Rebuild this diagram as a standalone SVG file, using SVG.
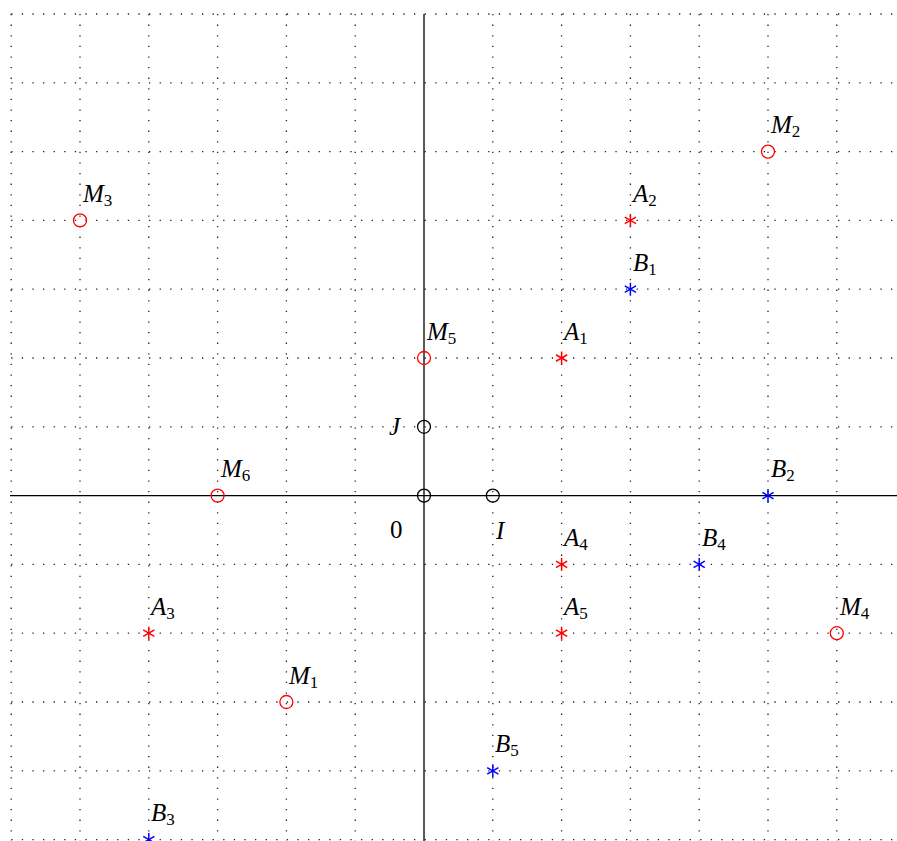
<svg xmlns="http://www.w3.org/2000/svg" width="897" height="841" viewBox="0 0 897 841">
<defs>
<style>
.grid line{stroke:#222;stroke-width:1.3;stroke-dasharray:1.3 9.3;fill:none}
.axis{stroke:#000;stroke-width:1.3}
.ring{fill:none;stroke-width:1.3}
.red{stroke:#f00;stroke-width:1.5}
.blue{stroke:#00f;stroke-width:1.5}
.blk{stroke:#000}
.ring.red{stroke-width:1.3}
text{font-family:"Liberation Serif","DejaVu Serif",serif;font-size:25px;font-style:italic;fill:#000}
.sub{font-size:17px;font-style:normal}
.up{font-style:normal}
</style>
<g id="star"><line x1="0" y1="-6.5" x2="0" y2="6.5"/><line x1="-5.6" y1="-3.25" x2="5.6" y2="3.25"/><line x1="-5.6" y1="3.25" x2="5.6" y2="-3.25"/></g>
</defs>
<rect width="897" height="841" fill="#fff"/>
<g class="grid" id="grid">
<line x1="11.2" y1="14" x2="11.2" y2="841"/>
<line x1="80" y1="14" x2="80" y2="841"/>
<line x1="148.8" y1="14" x2="148.8" y2="841"/>
<line x1="217.6" y1="14" x2="217.6" y2="841"/>
<line x1="286.4" y1="14" x2="286.4" y2="841"/>
<line x1="355.2" y1="14" x2="355.2" y2="841"/>
<line x1="492.8" y1="14" x2="492.8" y2="841"/>
<line x1="561.6" y1="14" x2="561.6" y2="841"/>
<line x1="630.4" y1="14" x2="630.4" y2="841"/>
<line x1="699.2" y1="14" x2="699.2" y2="841"/>
<line x1="768" y1="14" x2="768" y2="841"/>
<line x1="836.8" y1="14" x2="836.8" y2="841"/>
<line x1="11.2" y1="14" x2="897" y2="14"/>
<line x1="11.2" y1="82.8" x2="897" y2="82.8"/>
<line x1="11.2" y1="151.6" x2="897" y2="151.6"/>
<line x1="11.2" y1="220.4" x2="897" y2="220.4"/>
<line x1="11.2" y1="289.2" x2="897" y2="289.2"/>
<line x1="11.2" y1="358" x2="897" y2="358"/>
<line x1="11.2" y1="426.8" x2="897" y2="426.8"/>
<line x1="11.2" y1="564.4" x2="897" y2="564.4"/>
<line x1="11.2" y1="633.2" x2="897" y2="633.2"/>
<line x1="11.2" y1="702" x2="897" y2="702"/>
<line x1="11.2" y1="770.8" x2="897" y2="770.8"/>
<line x1="11.2" y1="839.6" x2="897" y2="839.6"/>
</g>
<g id="axes">
<line class="axis" x1="10" y1="495.6" x2="897" y2="495.6"/>
<line class="axis" x1="424" y1="14" x2="424" y2="841"/>
</g>
<g id="O"><circle class="ring blk" cx="424" cy="495.6" r="6.5"/><text class="up" x="390" y="538">0</text></g>
<g id="I"><circle class="ring blk" cx="492.8" cy="495.6" r="6.5"/><text x="496" y="539">I</text></g>
<g id="J"><circle class="ring blk" cx="424" cy="426.8" r="6.5"/><text x="389" y="435">J</text></g>
<g id="M1"><circle class="ring red" cx="286.4" cy="702" r="6.5"/><text x="289" y="684">M<tspan class="sub" dy="4">1</tspan></text></g>
<g id="M2"><circle class="ring red" cx="768" cy="151.6" r="6.5"/><text x="771" y="133">M<tspan class="sub" dy="4">2</tspan></text></g>
<g id="M3"><circle class="ring red" cx="80" cy="220.4" r="6.5"/><text x="83" y="202">M<tspan class="sub" dy="4">3</tspan></text></g>
<g id="M4"><circle class="ring red" cx="836.8" cy="633.2" r="6.5"/><text x="840" y="615">M<tspan class="sub" dy="4">4</tspan></text></g>
<g id="M5"><circle class="ring red" cx="424" cy="358" r="6.5"/><text x="427" y="340">M<tspan class="sub" dy="4">5</tspan></text></g>
<g id="M6"><circle class="ring red" cx="217.6" cy="495.6" r="6.5"/><text x="221" y="477">M<tspan class="sub" dy="4">6</tspan></text></g>
<g id="A1"><use href="#star" class="red" x="561.6" y="358"/><text x="564" y="340">A<tspan class="sub" dy="4">1</tspan></text></g>
<g id="A2"><use href="#star" class="red" x="630.4" y="220.4"/><text x="633" y="202">A<tspan class="sub" dy="4">2</tspan></text></g>
<g id="A3"><use href="#star" class="red" x="148.8" y="633.2"/><text x="151" y="615">A<tspan class="sub" dy="4">3</tspan></text></g>
<g id="A4"><use href="#star" class="red" x="561.6" y="564.4"/><text x="564" y="546">A<tspan class="sub" dy="4">4</tspan></text></g>
<g id="A5"><use href="#star" class="red" x="561.6" y="633.2"/><text x="564" y="615">A<tspan class="sub" dy="4">5</tspan></text></g>
<g id="B1"><use href="#star" class="blue" x="630.4" y="289.2"/><text x="633" y="271">B<tspan class="sub" dy="4">1</tspan></text></g>
<g id="B2"><use href="#star" class="blue" x="768" y="495.6"/><text x="771" y="477">B<tspan class="sub" dy="4">2</tspan></text></g>
<g id="B3"><use href="#star" class="blue" x="148.8" y="839.6"/><text x="151" y="821">B<tspan class="sub" dy="4">3</tspan></text></g>
<g id="B4"><use href="#star" class="blue" x="699.2" y="564.4"/><text x="702" y="546">B<tspan class="sub" dy="4">4</tspan></text></g>
<g id="B5"><use href="#star" class="blue" x="492.8" y="770.8"/><text x="495" y="752">B<tspan class="sub" dy="4">5</tspan></text></g>
</svg>
